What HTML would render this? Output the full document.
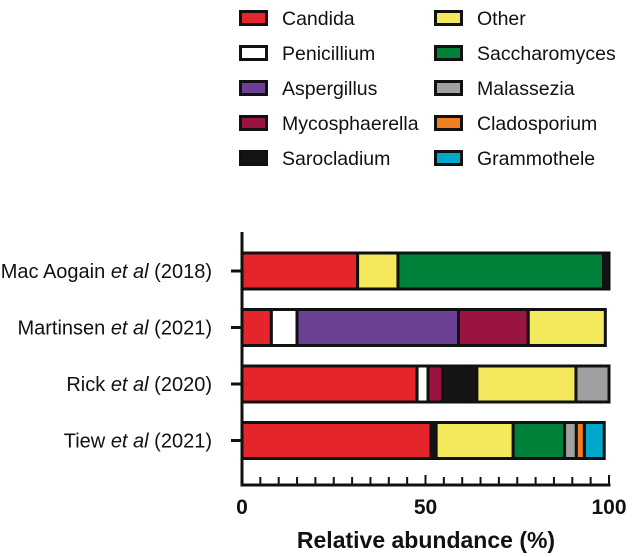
<!DOCTYPE html>
<html><head><meta charset="utf-8"><style>
body{margin:0;background:#fff}
svg{display:block;font-family:"Liberation Sans",Arial,sans-serif}
</style></head><body>
<svg id="chart" width="633" height="557" viewBox="0 0 633 557"></svg>
<script>
const taxa=["Candida","Penicillium","Aspergillus","Mycosphaerella","Sarocladium","Other","Saccharomyces","Malassezia","Cladosporium","Grammothele"];
const colors=["#e4262c","#ffffff","#6a4195","#99143f","#141414","#f4e95c","#00813a","#a0a0a2","#f07f22","#00a9cb"];
const studies=["Mac Aogain","Martinsen","Rick","Tiew"];
const years=["(2018)","(2021)","(2020)","(2021)"];
// values per taxon (same order as taxa)
const macValues=[31.5,0,0,0,1.5,11,56,0,0,0];
const martinsenValues=[8,7,44,19,0,21,0,0,0,0];
const rickValues=[47.7,3,0,4,9.3,27,0,9,0,0];
const tiewValues=[51.5,0,0,0,1.4,21,14,3.2,2.2,5.4];
const values=[macValues,martinsenValues,rickValues,tiewValues];
// stacking order of taxa indices for each bar
const macOrder=[0,5,6,4];
const martinsenOrder=[0,1,2,3,5];
const rickOrder=[0,1,3,4,5,7];
const tiewOrder=[0,4,5,6,7,8,9];
const orders=[macOrder,martinsenOrder,rickOrder,tiewOrder];
const xTicks=[0,50,100];
const NS="http://www.w3.org/2000/svg";
const svg=document.getElementById('chart');
function mk(t,a,p){const e=document.createElementNS(NS,t);for(const k in a)e.setAttribute(k,a[k]);(p||svg).appendChild(e);return e;}
const X0=242,X1=609;
const xs=v=>X0+(X1-X0)*v/100;
const rowY=i=>271+i*56.5;
const BH=36;
// legend
taxa.forEach((t,i)=>{
 const col=i<5?0:1, r=i%5;
 const x=col?434:239, y=10+r*35;
 const g=mk('g',{});
 
 
 mk('rect',{x:x+1.5,y:y+1.5,width:26,height:13,fill:colors[i],stroke:'#111','stroke-width':3},g);
 const tx=mk('text',{x:col?477:282,y:y+15,'font-size':19.5,fill:'#111'},g);tx.textContent=t;
});
// bars
studies.forEach((s,i)=>{
 const cy=rowY(i);
 let acc=0;
 orders[i].forEach(j=>{
  const v=values[i][j];
  if(v<=0)return;
  const r=mk('rect',{x:xs(acc),y:cy-BH/2,width:xs(acc+v)-xs(acc),height:BH,fill:colors[j],stroke:'#111','stroke-width':3});
  
  
  acc+=v;
 });
 mk('line',{x1:231,x2:X0,y1:cy,y2:cy,stroke:'#111','stroke-width':3});
 const t=mk('text',{x:212,y:cy+7,'font-size':20,'text-anchor':'end',fill:'#111'});
 
 
 const a=mk('tspan',{},t);a.textContent=s+' ';
 const b=mk('tspan',{'font-style':'italic'},t);b.textContent='et al';
 const c=mk('tspan',{},t);c.textContent=' '+years[i];
});
// axes
const ax=mk('g',{});


mk('line',{x1:X0,x2:X0,y1:232,y2:486,stroke:'#111','stroke-width':3},ax);
mk('line',{x1:X0-1.5,x2:X1+1.5,y1:485,y2:485,stroke:'#111','stroke-width':3},ax);
for(let v=5;v<=100;v+=5){mk('line',{x1:xs(v),x2:xs(v),y1:485,y2:v%50?477:475,stroke:'#111','stroke-width':2},ax);}
xTicks.forEach(v=>{const t=mk('text',{x:xs(v),y:514,'font-size':21,'font-weight':'bold','text-anchor':'middle',fill:'#111'},ax);t.textContent=v;});
const ttl=mk('text',{x:426,y:548,'font-size':23,'font-weight':'bold','text-anchor':'middle',fill:'#111'});


ttl.textContent='Relative abundance (%)';
</script>
</body></html>
